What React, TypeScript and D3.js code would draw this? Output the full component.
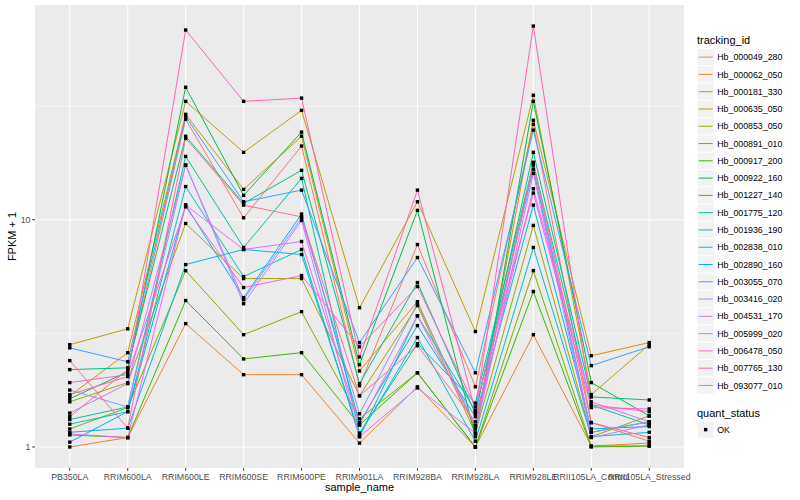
import React from "react";
import * as d3 from "d3";

const samples = [
  "PB350LA", "RRIM600LA", "RRIM600LE", "RRIM600SE", "RRIM600PE", "RRIM901LA",
  "RRIM928BA", "RRIM928LA", "RRIM928LE", "RRII105LA_Control", "RRII105LA_Stressed",
];

const trackingIds = [
  "Hb_000049_280", "Hb_000062_050", "Hb_000181_330", "Hb_000635_050", "Hb_000853_050",
  "Hb_000891_010", "Hb_000917_200", "Hb_000922_160", "Hb_001227_140", "Hb_001775_120",
  "Hb_001936_190", "Hb_002838_010", "Hb_002890_160", "Hb_003055_070", "Hb_003416_020",
  "Hb_004531_170", "Hb_005999_020", "Hb_006478_050", "Hb_007765_130", "Hb_093077_010",
];

const palette = [
  "#F8766D", "#EA8331", "#D89000", "#C09B00", "#A3A500", "#7CAE00", "#39B600", "#00BB4E",
  "#00BF7D", "#00C1A3", "#00BFC4", "#00BAE0", "#00B0F6", "#35A2FF", "#9590FF", "#C77CFF",
  "#E76BF3", "#FA62DB", "#FF62BC", "#FF6C91",
];

// FPKM + 1 per sample, one array per tracking_id
const hb_000049_280 = [1.36, 2.19, 27.7, 10.2, 21.1, 1.86, 7.78, 1.84, 26.3, 1.28, 1.06];
const hb_000062_050 = [1.0, 1.1, 3.49, 2.08, 2.08, 1.04, 1.84, 1.0, 3.12, 1.01, 1.04];
const hb_000181_330 = [1.68, 2.6, 29.1, 13.6, 23.3, 2.16, 4.36, 1.2, 27.4, 2.52, 2.88];
const hb_000635_050 = [2.82, 3.31, 33.2, 19.8, 30.3, 4.1, 12.0, 3.22, 35.3, 1.7, 2.82];
const hb_000853_050 = [1.58, 1.92, 9.63, 5.51, 5.51, 1.68, 4.19, 1.15, 9.44, 1.11, 1.37];
const hb_000891_010 = [1.2, 1.49, 5.97, 3.12, 3.94, 1.33, 2.12, 1.0, 5.97, 1.01, 1.01];
const hb_000917_200 = [1.13, 1.1, 4.41, 2.44, 2.6, 1.25, 2.12, 1.0, 4.83, 1.0, 1.01];
const hb_000922_160 = [1.63, 2.14, 38.3, 12.8, 24.3, 2.3, 11.0, 1.11, 33.2, 1.92, 1.37];
const hb_001227_140 = [2.19, 2.23, 23.3, 11.8, 16.5, 1.9, 5.29, 1.4, 19.8, 1.66, 1.61];
const hb_001775_120 = [1.32, 1.5, 19.0, 7.55, 15.2, 1.15, 2.85, 1.56, 17.7, 1.53, 1.25];
const hb_001936_190 = [1.26, 1.43, 14.0, 5.62, 7.4, 1.11, 3.78, 1.44, 16.7, 1.16, 1.29];
const hb_002838_010 = [1.16, 1.21, 6.35, 7.4, 7.03, 1.13, 3.03, 1.06, 7.55, 1.11, 1.16];
const hb_002890_160 = [1.05, 1.43, 11.6, 4.54, 10.6, 1.28, 3.42, 1.36, 11.6, 1.2, 1.23];
const hb_003055_070 = [2.73, 2.37, 28.5, 12.0, 13.5, 2.88, 6.82, 2.12, 24.8, 2.28, 2.76];
const hb_003416_020 = [1.78, 1.5, 17.4, 4.45, 10.2, 1.4, 4.27, 1.24, 17.4, 1.16, 1.29];
const hb_004531_170 = [1.41, 1.9, 17.4, 4.27, 9.93, 1.11, 1.82, 1.15, 16.0, 1.1, 1.25];
const hb_005999_020 = [1.14, 1.1, 11.6, 7.4, 8.02, 1.25, 3.78, 1.24, 13.7, 1.58, 1.29];
const hb_006478_050 = [1.92, 2.08, 11.4, 5.03, 5.68, 2.76, 5.08, 1.5, 13.1, 1.49, 1.47];
const hb_007765_130 = [1.7, 2.04, 68.4, 33.2, 34.3, 2.49, 13.5, 1.44, 71.2, 1.53, 1.43];
const hb_093077_010 = [2.4, 1.21, 22.8, 11.6, 10.3, 1.68, 2.79, 1.29, 17.9, 1.28, 1.1];

const seriesValues = [
  hb_000049_280, hb_000062_050, hb_000181_330, hb_000635_050, hb_000853_050,
  hb_000891_010, hb_000917_200, hb_000922_160, hb_001227_140, hb_001775_120,
  hb_001936_190, hb_002838_010, hb_002890_160, hb_003055_070, hb_003416_020,
  hb_004531_170, hb_005999_020, hb_006478_050, hb_007765_130, hb_093077_010,
];

const yTicks = [1, 10];
const yTickLabels = ["1", "10"];
const quantStatus = ["OK"];

const FONT = "'Liberation Sans', Arial, Helvetica, sans-serif";

export default function App() {
  const W = 800, H = 500;
  const pl = 35, pr = 684, pt = 5, pb = 468;

  const x = d3.scalePoint<string>().domain(samples).range([pl, pr]).padding(0.6);

  const all = seriesValues.flat();
  const lmin = Math.log10(d3.min(all) as number);
  const lmax = Math.log10(d3.max(all) as number);
  const span = lmax - lmin;
  const y = d3
    .scaleLog()
    .domain([Math.pow(10, lmin - 0.05 * span), Math.pow(10, lmax + 0.05 * span)])
    .range([pb, pt]);

  const minorTicks = [Math.pow(10, 0.5), Math.pow(10, 1.5)];

  const line = d3
    .line<number>()
    .x((_, i) => x(samples[i]) as number)
    .y((d) => y(d));

  const keyH = 17.28;
  const legX = 697;
  const legTop = 48.5;

  return (
    <svg
      width={W}
      height={H}
      style={{ position: "absolute", left: 0, top: 0, background: "#fff" }}
      fontFamily={FONT}
    >
      <rect x={0} y={0} width={W} height={H} fill="#fff" />
      <rect x={pl} y={pt} width={pr - pl} height={pb - pt} fill="#EBEBEB" />
      {minorTicks.map((t, i) => (
        <line key={"mn" + i} x1={pl} x2={pr} y1={y(t)} y2={y(t)} stroke="#fff" strokeWidth={0.55} />
      ))}
      {yTicks.map((t, i) => (
        <line key={"mj" + i} x1={pl} x2={pr} y1={y(t)} y2={y(t)} stroke="#fff" strokeWidth={1.1} />
      ))}
      {samples.map((s) => (
        <line key={"vx" + s} x1={x(s)} x2={x(s)} y1={pt} y2={pb} stroke="#fff" strokeWidth={1.1} />
      ))}

      {seriesValues.map((vals, i) => (
        <path key={"l" + i} d={line(vals) as string} fill="none" stroke={palette[i]} strokeWidth={1} />
      ))}
      {seriesValues.map((vals, i) =>
        vals.map((v, j) => (
          <rect
            key={"p" + i + "-" + j}
            x={(x(samples[j]) as number) - 1.7}
            y={y(v) - 1.7}
            width={3.4}
            height={3.4}
            fill="#000"
          />
        ))
      )}

      {/* y axis */}
      {yTicks.map((t, i) => (
        <g key={"yt" + i}>
          <line x1={pl - 2.75} x2={pl} y1={y(t)} y2={y(t)} stroke="#333" strokeWidth={1} />
          <text x={pl - 4.5} y={y(t)} dy="0.35em" textAnchor="end" fontSize={8.8} fill="#4D4D4D">
            {yTickLabels[i]}
          </text>
        </g>
      ))}
      <text
        transform={`translate(15.5, ${(pt + pb) / 2}) rotate(-90)`}
        textAnchor="middle"
        fontSize={11}
        fill="#000"
      >
        FPKM + 1
      </text>

      {/* x axis */}
      {samples.map((s) => (
        <g key={"xt" + s}>
          <line x1={x(s)} x2={x(s)} y1={pb} y2={pb + 2.75} stroke="#333" strokeWidth={1} />
          <text x={x(s)} y={pb + 11.5} textAnchor="middle" fontSize={8.8} fill="#4D4D4D">
            {s}
          </text>
        </g>
      ))}
      <text x={(pl + pr) / 2} y={491} textAnchor="middle" fontSize={11} fill="#000">
        sample_name
      </text>

      {/* legend: tracking_id */}
      <text x={legX} y={43.5} fontSize={11} fill="#000">
        tracking_id
      </text>
      {trackingIds.map((id, i) => {
        const ky = legTop + i * keyH;
        return (
          <g key={"lg" + id}>
            <rect x={legX} y={ky} width={keyH} height={keyH} fill="#F2F2F2" stroke="#fff" strokeWidth={1} />
            <line x1={legX + 1.7} x2={legX + keyH - 1.7} y1={ky + keyH / 2} y2={ky + keyH / 2} stroke={palette[i]} strokeWidth={1} />
            <text x={legX + keyH + 3} y={ky + keyH / 2} dy="0.35em" fontSize={8.8} fill="#000">
              {id}
            </text>
          </g>
        );
      })}

      {/* legend: quant_status */}
      <text x={legX} y={416.5} fontSize={11} fill="#000">
        quant_status
      </text>
      {quantStatus.map((q, i) => {
        const ky = 421 + i * keyH;
        return (
          <g key={"qs" + q}>
            <rect x={legX} y={ky} width={keyH} height={keyH} fill="#F2F2F2" stroke="#fff" strokeWidth={1} />
            <rect x={legX + keyH / 2 - 1.7} y={ky + keyH / 2 - 1.7} width={3.4} height={3.4} fill="#000" />
            <text x={legX + keyH + 3} y={ky + keyH / 2} dy="0.35em" fontSize={8.8} fill="#000">
              {q}
            </text>
          </g>
        );
      })}
    </svg>
  );
}
